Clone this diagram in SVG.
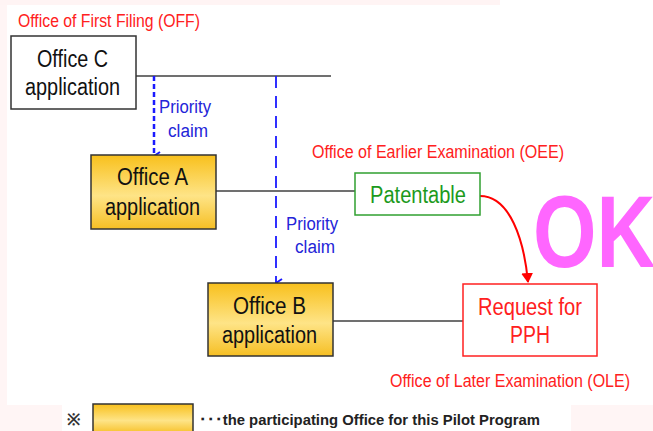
<svg xmlns="http://www.w3.org/2000/svg" width="653" height="431" viewBox="0 0 653 431">
  <defs>
    <linearGradient id="gold" x1="0" y1="0" x2="0" y2="1">
      <stop offset="0" stop-color="#f8c01c"/>
      <stop offset="0.55" stop-color="#fee487"/>
      <stop offset="1" stop-color="#f6bf24"/>
    </linearGradient>
    <marker id="blueHead" viewBox="0 0 10 10" refX="5" refY="9" markerWidth="10" markerHeight="10" markerUnits="userSpaceOnUse" orient="auto-start-reverse">
      <path d="M1,3 L5,9 L9,3" fill="none" stroke="#1a1aff" stroke-width="2"/>
    </marker>
    <marker id="redTip" viewBox="0 0 10 12" refX="9" refY="6" markerWidth="10" markerHeight="12" markerUnits="userSpaceOnUse" orient="auto">
      <path d="M0,0 L10,6 L0,12 Z" fill="#ff0000"/>
    </marker>
  </defs>
  <style>
    text { font-family: "Liberation Sans", Arial, sans-serif; }
    .box { stroke: #333333; stroke-width: 1.5; }
    .app { fill: url(#gold); }
    .lbl { font-size: 23px; fill: #111111; }
    .red { font-size: 17.5px; fill: #ff2020; }
    .blue { font-size: 18px; fill: #2424d8; }
    .link { stroke: #404040; stroke-width: 1.5; fill: none; }
  </style>

  <rect width="653" height="431" fill="#ffffff"/>
  <!-- faint tinted margins -->
  <rect x="0" y="0" width="7" height="431" fill="#fff5f5"/>
  <rect x="0" y="405" width="653" height="26" fill="#fff5f5"/>
  <rect x="62" y="405" width="509" height="26" fill="#ffffff"/>
  <rect x="0" y="0" width="500" height="5" fill="#fff4f4"/>

  <!-- connectors -->
  <g id="connectors">
    <line class="link" x1="136" y1="76" x2="331" y2="76"/>
    <line class="link" x1="216" y1="191" x2="355" y2="191"/>
    <line class="link" x1="333" y1="321" x2="463" y2="321"/>
    <line x1="154" y1="76" x2="154" y2="156" stroke="#1a1aff" stroke-width="2.5" stroke-dasharray="5,3" marker-end="url(#blueHead)"/>
    <line x1="276" y1="76" x2="276" y2="283" stroke="#1a1aff" stroke-width="1.8" stroke-dasharray="12,8" marker-end="url(#blueHead)"/>
    <path d="M480,196 C510,196 524,240 528,282" fill="none" stroke="#ff0000" stroke-width="2" marker-end="url(#redTip)"/>
  </g>

  <text class="red" x="18" y="27" textLength="182" lengthAdjust="spacingAndGlyphs">Office of First Filing (OFF)</text>

  <g id="office-c">
    <rect class="box" x="11" y="36" width="125" height="73" fill="#ffffff"/>
    <text class="lbl" x="37" y="67" textLength="71" lengthAdjust="spacingAndGlyphs">Office C</text>
    <text class="lbl" x="25" y="95" textLength="95" lengthAdjust="spacingAndGlyphs">application</text>
  </g>

  <text class="blue" x="159" y="113" textLength="52" lengthAdjust="spacingAndGlyphs">Priority</text>
  <text class="blue" x="168" y="137" textLength="40" lengthAdjust="spacingAndGlyphs">claim</text>

  <g id="office-a">
    <rect class="box app" x="91" y="155" width="125" height="74"/>
    <text class="lbl" x="117" y="185" textLength="71" lengthAdjust="spacingAndGlyphs">Office A</text>
    <text class="lbl" x="105" y="215" textLength="95" lengthAdjust="spacingAndGlyphs">application</text>
  </g>

  <text class="red" x="312" y="158" textLength="252" lengthAdjust="spacingAndGlyphs">Office of Earlier Examination  (OEE)</text>

  <g id="patentable">
    <rect x="355" y="173" width="125" height="42" fill="#ffffff" stroke="#30a030" stroke-width="1.5"/>
    <text class="lbl" x="370" y="203" textLength="96" lengthAdjust="spacingAndGlyphs" style="fill:#1c9a1c">Patentable</text>
  </g>

  <text class="blue" x="286" y="230" textLength="52" lengthAdjust="spacingAndGlyphs">Priority</text>
  <text class="blue" x="295" y="253" textLength="40" lengthAdjust="spacingAndGlyphs">claim</text>

  <g id="office-b">
    <rect class="box app" x="208" y="283" width="125" height="73"/>
    <text class="lbl" x="233" y="314" textLength="73" lengthAdjust="spacingAndGlyphs">Office B</text>
    <text class="lbl" x="222" y="343" textLength="95" lengthAdjust="spacingAndGlyphs">application</text>
  </g>

  <g id="request-pph">
    <rect x="463" y="284" width="134" height="72" fill="#ffffff" stroke="#ff2020" stroke-width="1.5"/>
    <text class="lbl" x="478" y="315" textLength="104" lengthAdjust="spacingAndGlyphs" style="fill:#ff2020">Request for</text>
    <text class="lbl" x="510" y="343" textLength="40" lengthAdjust="spacingAndGlyphs" style="fill:#ff2020">PPH</text>
  </g>

  <text class="red" x="390" y="387" textLength="240" lengthAdjust="spacingAndGlyphs">Office of Later Examination  (OLE)</text>

  <text x="0" y="0" transform="translate(533,267) scale(0.8,1)" font-weight="bold" font-size="102" fill="#ff66ff">OK</text>

  <g id="legend">
    <text x="67" y="425" font-family="Noto Sans CJK JP, sans-serif" font-size="16" font-weight="bold" fill="#333333">※</text>
    <rect class="box app" x="93" y="404" width="100" height="30"/>
    <text x="199" y="425" font-size="15" font-weight="bold" fill="#222222" textLength="341" lengthAdjust="spacingAndGlyphs">･･･the participating Office for this Pilot Program</text>
  </g>
</svg>
